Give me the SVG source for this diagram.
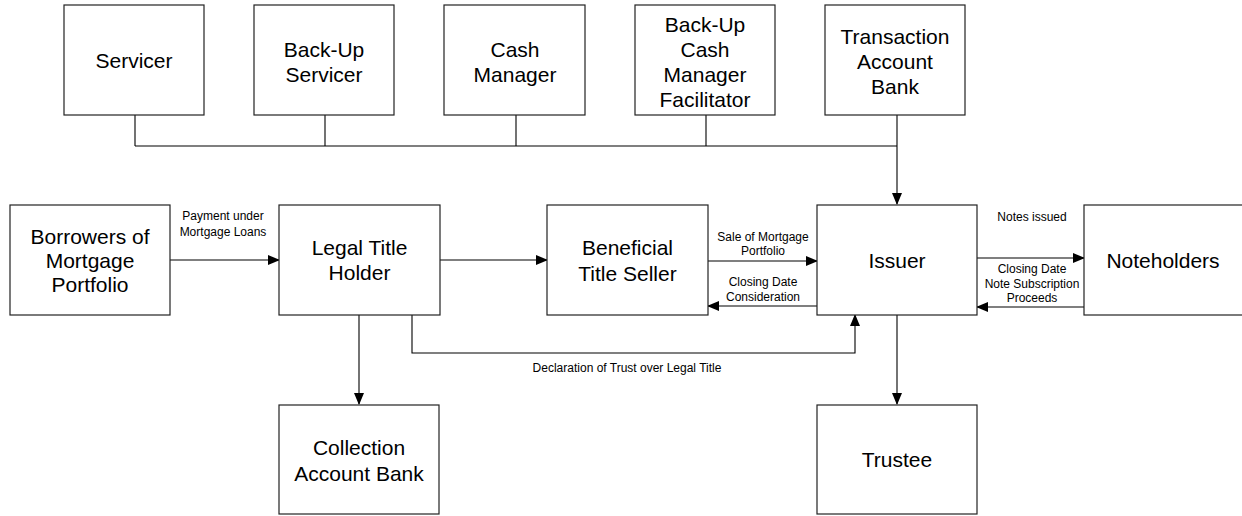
<svg xmlns="http://www.w3.org/2000/svg" width="1242" height="516" viewBox="0 0 1242 516">
<style>
.box{fill:#fff;stroke:#222;stroke-width:1.2}
.t{font-family:"Liberation Sans",Arial,sans-serif;font-size:21px;fill:#000;text-anchor:middle}
.s{font-family:"Liberation Sans",Arial,sans-serif;font-size:12px;fill:#000;text-anchor:middle}
.ln{fill:none;stroke:#000;stroke-width:1.1}
</style>
<defs>
<marker id="ah" markerWidth="12" markerHeight="10" refX="11" refY="5" orient="auto" markerUnits="userSpaceOnUse">
<path d="M0,0 L12,5 L0,10 Z" fill="#000"/>
</marker>
</defs>
<rect width="1242" height="516" fill="#fff"/>
<g id="connectors">
<path class="ln" d="M135,115 V146 M325,115 V146 M516,115 V146 M706,115 V146 M135,146 H897"/>
<path class="ln" d="M897,115 V204" marker-end="url(#ah)"/>
<path class="ln" d="M170,260 H279" marker-end="url(#ah)"/>
<path class="ln" d="M440,260 H547" marker-end="url(#ah)"/>
<path class="ln" d="M708,261 H817" marker-end="url(#ah)"/>
<path class="ln" d="M817,306 H708" marker-end="url(#ah)"/>
<path class="ln" d="M977,258 H1084" marker-end="url(#ah)"/>
<path class="ln" d="M1084,307 H977" marker-end="url(#ah)"/>
<path class="ln" d="M359,315 V404" marker-end="url(#ah)"/>
<path class="ln" d="M897,315 V404" marker-end="url(#ah)"/>
<path class="ln" d="M412,315 V353 H855 V315" marker-end="url(#ah)"/>
<text class="s" x="223" y="220">Payment under</text>
<text class="s" x="223" y="236">Mortgage Loans</text>
<text class="s" x="763" y="241">Sale of Mortgage</text>
<text class="s" x="763" y="255">Portfolio</text>
<text class="s" x="763" y="286">Closing Date</text>
<text class="s" x="763" y="301">Consideration</text>
<text class="s" x="1032" y="221">Notes issued</text>
<text class="s" x="1032" y="273">Closing Date</text>
<text class="s" x="1032" y="288">Note Subscription</text>
<text class="s" x="1032" y="302">Proceeds</text>
<text class="s" x="627" y="372">Declaration of Trust over Legal Title</text>
</g>
<g id="servicer"><rect class="box" x="64" y="5" width="140" height="110"/><text class="t" x="134" y="68">Servicer</text></g>
<g id="backup-servicer"><rect class="box" x="254" y="5" width="140" height="110"/><text class="t" x="324" y="57">Back-Up</text><text class="t" x="324" y="82">Servicer</text></g>
<g id="cash-manager"><rect class="box" x="444" y="5" width="141" height="110"/><text class="t" x="515" y="57">Cash</text><text class="t" x="515" y="82">Manager</text></g>
<g id="backup-cash-manager"><rect class="box" x="635" y="5" width="140" height="110"/><text class="t" x="705" y="32">Back-Up</text><text class="t" x="705" y="57">Cash</text><text class="t" x="705" y="82">Manager</text><text class="t" x="705" y="107">Facilitator</text></g>
<g id="transaction-account-bank"><rect class="box" x="825" y="5" width="140" height="110"/><text class="t" x="895" y="44">Transaction</text><text class="t" x="895" y="69">Account</text><text class="t" x="895" y="94">Bank</text></g>
<g id="borrowers"><rect class="box" x="10" y="205" width="160" height="110"/><text class="t" x="90" y="244">Borrowers of</text><text class="t" x="90" y="268">Mortgage</text><text class="t" x="90" y="292">Portfolio</text></g>
<g id="legal-title-holder"><rect class="box" x="279" y="205" width="161" height="110"/><text class="t" x="359.5" y="255">Legal Title</text><text class="t" x="359.5" y="280">Holder</text></g>
<g id="beneficial-title-seller"><rect class="box" x="547" y="205" width="161" height="110"/><text class="t" x="627.5" y="255">Beneficial</text><text class="t" x="627.5" y="281">Title Seller</text></g>
<g id="issuer"><rect class="box" x="817" y="205" width="160" height="110"/><text class="t" x="897" y="268">Issuer</text></g>
<g id="noteholders"><rect class="box" x="1084" y="205" width="160" height="110"/><text class="t" x="1163" y="268">Noteholders</text></g>
<g id="collection-account-bank"><rect class="box" x="279" y="405" width="160" height="109"/><text class="t" x="359" y="455">Collection</text><text class="t" x="359" y="481">Account Bank</text></g>
<g id="trustee"><rect class="box" x="817" y="405" width="160" height="109"/><text class="t" x="897" y="467">Trustee</text></g>
</svg>
